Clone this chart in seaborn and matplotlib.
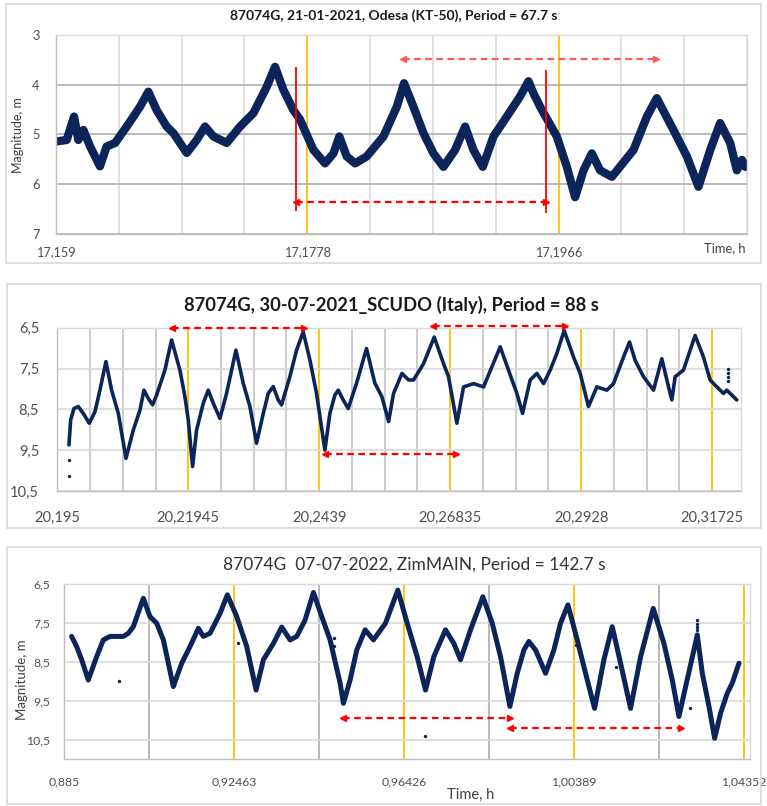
import matplotlib
matplotlib.use("Agg")
import matplotlib.pyplot as plt
import seaborn as sns
from matplotlib.patches import Rectangle

# ---------------- Panel 1 : Odesa (KT-50) ----------------
p1_title = "87074G, 21-01-2021, Odesa (KT-50), Period = 67.7 s"
p1_time = [17.15900, 17.15980, 17.16035, 17.16067, 17.16105, 17.16155, 17.16229, 17.16279, 17.16342, 17.16429,
           17.16529, 17.16591, 17.16653, 17.16728, 17.16778, 17.16878, 17.16953, 17.17015, 17.17078, 17.17177,
           17.17277, 17.17377, 17.17477, 17.17539, 17.17601, 17.17676,
           17.17726, 17.17826, 17.17913, 17.17976, 17.18020, 17.18075, 17.18138, 17.18225, 17.18350, 17.18450,
           17.18504, 17.18574, 17.18649, 17.18724, 17.18799, 17.18886, 17.18961, 17.19023, 17.19093, 17.19173,
           17.19273, 17.19373, 17.19435, 17.19472, 17.19522, 17.19647, 17.19722, 17.19784, 17.19847, 17.19909,
           17.19971, 17.20059, 17.20221, 17.20321, 17.20395, 17.20520, 17.20620, 17.20707, 17.20795, 17.20869,
           17.20944, 17.20994, 17.21032, 17.21057]
p1_mag = [5.14, 5.11, 4.64, 5.11, 4.91, 5.24, 5.64, 5.24, 5.17, 4.84,
          4.44, 4.14, 4.51, 4.84, 4.97, 5.37, 5.11, 4.84, 5.04, 5.17,
          4.84, 4.57, 4.04, 3.64, 4.10, 4.51,
          4.70, 5.31, 5.58, 5.38, 5.04, 5.44, 5.58, 5.44, 5.04, 4.44,
          3.97, 4.44, 4.97, 5.38, 5.65, 5.31, 4.84, 5.31, 5.65, 5.04,
          4.64, 4.23, 3.93, 4.17, 4.44, 5.04, 5.65, 6.26, 5.72, 5.38,
          5.72, 5.85, 5.31, 4.64, 4.27, 4.91, 5.44, 6.05, 5.31, 4.77,
          5.17, 5.72, 5.51, 5.65]
p1_xticks = [17.159, 17.1778, 17.1966]
p1_xticklabels = ["17,159", "17,1778", "17,1966"]
p1_yticks = [3, 4, 5, 6, 7]
p1_yticklabels = ["3", "4", "5", "6", "7"]
p1_red_lines_x = [17.17696, 17.19567]
p1_red_lines_top = [3.64, 3.70]
p1_red_lines_bottom = [6.54, 6.58]
p1_arrow_x0 = [17.17696, 17.18497]
p1_arrow_x1 = [17.19567, 17.20390]
p1_arrow_y = [6.36, 3.48]

# ---------------- Panel 2 : SCUDO (Italy) ----------------
p2_title = "87074G, 30-07-2021_SCUDO (Italy), Period = 88 s"
p2_time = [20.19718, 20.19749, 20.19811, 20.19892, 20.19985, 20.20097, 20.20203, 20.20296, 20.20408, 20.20514,
           20.20639, 20.20782, 20.20918, 20.21043, 20.21118, 20.21198, 20.21279, 20.21354, 20.21509, 20.21634,
           20.21789, 20.21883, 20.21945, 20.22026, 20.22100, 20.22225, 20.22318, 20.22412, 20.22536, 20.22660,
           20.22835, 20.22971, 20.23096, 20.23220, 20.23345, 20.23438, 20.23531, 20.23625, 20.23687, 20.23842,
           20.23967, 20.24091, 20.24216, 20.24340, 20.24496, 20.24589, 20.24682, 20.24745, 20.24838, 20.24931,
           20.25087, 20.25273, 20.25429,
           20.25560, 20.25685, 20.25778, 20.25934, 20.26058, 20.26151, 20.26338, 20.26537, 20.26711, 20.26804,
           20.26960, 20.27084, 20.27271, 20.27458, 20.27613, 20.27769, 20.27924, 20.28080, 20.28186, 20.28329,
           20.28453, 20.28578, 20.28702, 20.28826, 20.28963, 20.29138, 20.29262, 20.29417, 20.29573, 20.29760,
           20.29884, 20.30071, 20.30183, 20.30288, 20.30444, 20.30631, 20.30786, 20.30911, 20.30973, 20.31035,
           20.31190, 20.31408, 20.31564, 20.31688, 20.31813, 20.31937, 20.31999, 20.32093, 20.32186]
p2_mag = [9.37, 8.76, 8.48, 8.43, 8.60, 8.84, 8.56, 8.03, 7.33, 8.03,
          8.60, 9.70, 9.01, 8.52, 8.03, 8.23, 8.39, 8.15, 7.54, 6.80,
          7.54, 8.19, 8.76, 9.90, 9.01, 8.35, 8.03, 8.35, 8.72, 8.11,
          7.05, 7.86, 8.43, 9.33, 8.60, 8.11, 7.94, 8.27, 8.39, 7.70,
          7.05, 6.60, 7.29, 8.11, 9.50, 8.60, 8.15, 8.03, 8.27, 8.48,
          7.86, 7.01, 7.86,
          8.19, 8.80, 8.11, 7.62, 7.78, 7.78, 7.38, 6.73, 7.38, 7.70,
          8.84, 7.95, 7.87, 7.95, 7.46, 6.97, 7.54, 8.11, 8.60, 7.78,
          7.62, 7.87, 7.54, 7.13, 6.57, 7.22, 7.62, 8.43, 7.95, 8.03,
          7.87, 7.22, 6.85, 7.30, 7.70, 8.03, 7.26, 7.95, 8.27, 7.70,
          7.54, 6.69, 7.22, 7.78, 7.95, 8.11, 8.03, 8.15, 8.27]
p2_out_time = [20.19718, 20.19718, 20.32030, 20.32030, 20.32030, 20.32030]
p2_out_mag = [9.74, 10.13, 7.50, 7.60, 7.70, 7.80]
p2_xticks = [20.195, 20.21945, 20.2439, 20.26835, 20.2928, 20.31725]
p2_xticklabels = ["20,195", "20,21945", "20,2439", "20,26835", "20,2928", "20,31725"]
p2_yticks = [6.5, 7.5, 8.5, 9.5, 10.5]
p2_yticklabels = ["6,5", "7,5", "8,5", "9,5", "10,5"]
p2_arrow_x0 = [20.21646, 20.26512, 20.24496]
p2_arrow_x1 = [20.24104, 20.28981, 20.26941]
p2_arrow_y = [6.515, 6.46, 9.60]

# ---------------- Panel 3 : ZimMAIN ----------------
p3_title = "87074G  07-07-2022, ZimMAIN, Period = 142.7 s"
p3_time = [0.88671, 0.88788, 0.88905, 0.89060, 0.89255, 0.89410, 0.89566, 0.89877, 0.89994, 0.90110,
           0.90344, 0.90499, 0.90655, 0.90811, 0.91044, 0.91239, 0.91433, 0.91628, 0.91744, 0.91900,
           0.92133, 0.92304, 0.92522, 0.92756, 0.92974, 0.93145, 0.93378, 0.93573, 0.93767, 0.93923,
           0.94117, 0.94312, 0.94506, 0.94701, 0.94934, 0.95012, 0.95168, 0.95323, 0.95518, 0.95712,
           0.95993, 0.96281, 0.96499, 0.96732, 0.96927, 0.97121, 0.97393, 0.97588, 0.97743, 0.97977,
           0.98265, 0.98483, 0.98677, 0.98895, 0.99066, 0.99222, 0.99338, 0.99494, 0.99727, 0.99922,
           1.00077, 1.00249, 1.00466, 1.00661, 1.00871, 1.01089, 1.01283, 1.01478, 1.01711, 1.01945,
           1.02240, 1.02489, 1.02684, 1.02839, 1.02995, 1.03189, 1.03267, 1.03384, 1.03540, 1.03672,
           1.03812, 1.03967, 1.04084, 1.04240]
p3_mag = [7.84, 8.10, 8.44, 8.96, 8.36, 7.93, 7.84, 7.84, 7.76, 7.59,
          6.86, 7.33, 7.50, 7.93, 9.13, 8.53, 8.10, 7.63, 7.84, 7.76,
          7.25, 6.77, 7.33, 8.10, 9.22, 8.44, 8.02, 7.60, 7.93, 7.84,
          7.42, 6.71, 7.33, 7.93, 9.04, 9.56, 8.96, 8.19, 7.67, 7.93,
          7.50, 6.65, 7.50, 8.36, 9.22, 8.36, 7.67, 8.02, 8.44, 7.67,
          6.82, 7.50, 8.36, 9.64, 8.79, 8.19, 7.97, 8.19, 8.79, 8.19,
          7.50, 7.03, 7.93, 8.79, 9.69, 8.44, 7.59, 8.53, 9.69, 8.36,
          7.12, 8.02, 8.96, 9.90, 9.13, 8.19, 7.80, 8.79, 9.64, 10.46,
          9.81, 9.30, 9.04, 8.53]
p3_out_time = [0.89776, 0.92546, 0.94802, 0.94802, 0.96911, 1.00427, 1.01361, 1.03096,
               1.03267, 1.03267, 1.03267, 1.03267]
p3_out_mag = [8.98, 8.00, 7.89, 8.08, 10.40, 8.06, 8.62, 9.69, 7.43, 7.51, 7.59, 7.67]
p3_xticks = [0.885, 0.92463, 0.96426, 1.00389, 1.04352]
p3_xticklabels = ["0,885", "0,92463", "0,96426", "1,00389", "1,04352"]
p3_yticks = [6.5, 7.5, 8.5, 9.5, 10.5]
p3_yticklabels = ["6,5", "7,5", "8,5", "9,5", "10,5"]
p3_arrow_x0 = [0.95012, 0.98896]
p3_arrow_x1 = [0.98896, 1.02877]
p3_arrow_y = [9.94, 10.20]

# ---------------- styling ----------------
sns.set_style("white")
plt.rcParams['font.family'] = ['Lato', 'DejaVu Sans']

NAVY = "#0b2459"
GOLD = "#FFC000"
RED = "#FF0000"
TICK = "#505050"
W, H = 767, 806

fig = plt.figure(figsize=(W / 100, H / 100), dpi=100)


def axes_px(x0, y0, x1, y1):
    return fig.add_axes([x0 / W, 1 - y1 / H, (x1 - x0) / W, (y1 - y0) / H])


def border(x0, y0, x1, y1):
    fig.patches.append(Rectangle((x0 / W, 1 - y1 / H), (x1 - x0) / W, (y1 - y0) / H,
                                 transform=fig.transFigure, fill=False,
                                 edgecolor="#D9D9D9", lw=1.2))


def dashed_arrow(ax, x0, x1, y, color):
    ax.plot([x0, x1], [y, y], ls=(0, (3, 2)), color=color, lw=1.6, zorder=5, clip_on=False)
    ax.plot([x0], [y], marker='<', color=color, ms=5, zorder=5, clip_on=False)
    ax.plot([x1], [y], marker='>', color=color, ms=5, zorder=5, clip_on=False)


def style_axes(ax, xlim, ylim, xticks, xlabels, yticks, ylabels, minor_step,
               minor_color, hgrid_color, fs, xpad, ypad):
    ax.set_xlim(*xlim)
    ax.set_ylim(*ylim)
    ax.set_xticks(xticks)
    ax.set_xticklabels(xlabels)
    ax.set_yticks(yticks)
    ax.set_yticklabels(ylabels)
    n = int(round((xlim[1] - xlim[0]) / minor_step)) + 1
    ax.set_xticks([xticks[0] + i * minor_step for i in range(n)
                   if xticks[0] + i * minor_step <= xlim[1] + 1e-9], minor=True)
    ax.set_axisbelow(True)
    ax.grid(True, which='major', axis='x', color=GOLD, lw=1.3)
    ax.grid(True, which='minor', axis='x', color=minor_color, lw=1.1)
    ax.grid(True, which='major', axis='y', color=hgrid_color, lw=1.2)
    ax.tick_params(axis='both', which='both', length=0, labelsize=fs, colors=TICK)
    ax.tick_params(axis='x', pad=xpad)
    ax.tick_params(axis='y', pad=ypad)
    for s in ax.spines.values():
        s.set_color("#D9D9D9")
        s.set_linewidth(1.0)
    ax.spines['left'].set_color("#BFBFBF")
    ax.spines['bottom'].set_color("#BFBFBF")
    ax.set_xlabel("")
    ax.set_ylabel("")


# ---- Panel 1 ----
border(6, 4, 761, 263)
ax1 = axes_px(56, 35, 747, 234)
sns.lineplot(x=p1_time, y=p1_mag, ax=ax1, color=NAVY, lw=6, sort=False,
             estimator=None, solid_joinstyle='round', solid_capstyle='round')
style_axes(ax1, (17.159, 17.2107), (7, 3), p1_xticks, p1_xticklabels,
           p1_yticks, p1_yticklabels, 0.0047, "#D9D9D9", "#B0B0B0", 9.2, 9, 12)
ax1.vlines(p1_red_lines_x, p1_red_lines_top, p1_red_lines_bottom, color=RED, lw=1.3, zorder=6)
dashed_arrow(ax1, p1_arrow_x0[0], p1_arrow_x1[0], p1_arrow_y[0], RED)
dashed_arrow(ax1, p1_arrow_x0[1], p1_arrow_x1[1], p1_arrow_y[1], "#FF5A5A")
fig.text(394 / W, 1 - 16 / H, p1_title, ha='center', va='center', fontsize=10,
         fontweight='bold', color="#1a1a1a")
fig.text(18 / W, 1 - 135 / H, "Magnitude, m", rotation=90, ha='center', va='center',
         fontsize=9, color="#404040")
fig.text(746 / W, 1 - 248 / H, "Time, h", ha='right', va='center', fontsize=9.3, color="#404040")

# ---- Panel 2 ----
border(7, 284, 761, 528)
ax2 = axes_px(57.3, 327.7, 741.3, 491)
sns.lineplot(x=p2_time, y=p2_mag, ax=ax2, color=NAVY, lw=2.6, sort=False,
             estimator=None, solid_joinstyle='round')
sns.scatterplot(x=p2_out_time, y=p2_out_mag, ax=ax2, color=NAVY, s=6, linewidth=0)
style_axes(ax2, (20.195, 20.3227), (10.5, 6.5), p2_xticks, p2_xticklabels,
           p2_yticks, p2_yticklabels, 0.0061125, "#BFBFBF", "#D9D9D9", 10.6, 14, 13)
for x0, x1, y in zip(p2_arrow_x0, p2_arrow_x1, p2_arrow_y):
    dashed_arrow(ax2, x0, x1, y, RED)
fig.text(391 / W, 1 - 305 / H, p2_title, ha='center', va='center', fontsize=13.2,
         fontweight='bold', color="#1a1a1a")

# ---- Panel 3 ----
border(7, 547, 761, 804)
ax3 = axes_px(64.3, 584.3, 749.7, 759.3)
sns.lineplot(x=p3_time, y=p3_mag, ax=ax3, color=NAVY, lw=3.6, sort=False,
             estimator=None, solid_joinstyle='round')
sns.scatterplot(x=p3_out_time, y=p3_out_mag, ax=ax3, color=NAVY, s=6, linewidth=0)
style_axes(ax3, (0.885, 1.0449), (11, 6.5), p3_xticks, p3_xticklabels,
           p3_yticks, p3_yticklabels, 0.019815, "#A6A6A6", "#D9D9D9", 8.8, 12, 10)
for x0, x1, y in zip(p3_arrow_x0, p3_arrow_x1, p3_arrow_y):
    dashed_arrow(ax3, x0, x1, y, RED)
fig.text(414 / W, 1 - 565 / H, p3_title, ha='center', va='center', fontsize=12.5,
         color="#333333")
fig.text(21.7 / W, 1 - 680 / H, "Magnitude, m", rotation=90, ha='center', va='center',
         fontsize=9.5, color="#404040")
fig.text(470.5 / W, 1 - 795 / H, "Time, h", ha='center', va='center', fontsize=10.5, color="#404040")

for ax in (ax1, ax2, ax3):
    if ax.get_legend() is not None:
        ax.get_legend().remove()

fig.savefig("out.png", dpi=100)
